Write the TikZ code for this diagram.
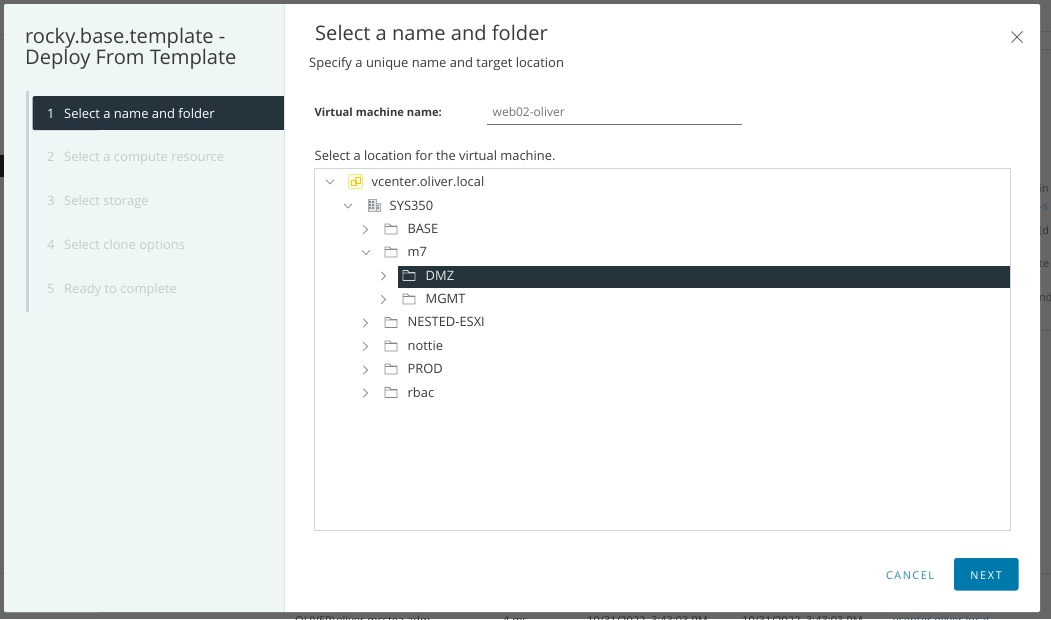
\documentclass[tikz,border=0pt]{standalone}
\usepackage{fontspec}
\setmainfont{Open Sans}
\definecolor{dimbg}{HTML}{666666}
\definecolor{dimline}{HTML}{5A5A5A}
\definecolor{dimtext}{HTML}{333333}
\definecolor{dimblue}{HTML}{2F5266}
\definecolor{panelbg}{HTML}{EEF6F6}
\definecolor{panelline}{HTML}{DDE5E5}
\definecolor{dark}{HTML}{25333D}
\definecolor{track}{HTML}{C9D5DB}
\definecolor{muted}{HTML}{C4CCCC}
\definecolor{ink}{HTML}{3A3A3A}
\definecolor{frameline}{HTML}{D4D4D4}
\definecolor{btnblue}{HTML}{0079AD}
\definecolor{chev}{HTML}{8A9499}
\definecolor{closex}{HTML}{5F6B70}
\definecolor{fold}{HTML}{7F8A8F}
\tikzset{
  x=1pt,y=-1pt,
  txt/.style={inner sep=0pt,anchor=base west,text=ink,font=\fontsize{13}{15}\selectfont},
  steptxt/.style={txt,text=muted},
  treetxt/.style={txt,text=ink,font=\fontsize{12.9}{15}\selectfont},
  bgtxt/.style={txt,text=dimtext,font=\fontsize{11}{13}\selectfont},
  chevron/.style={draw=chev,line width=0.85pt,line cap=round,line join=round},
}
\newcommand{\chevR}[2]{\draw[chevron] (#1-2,#2-4) -- (#1+2,#2) -- (#1-2,#2+4);}
\newcommand{\chevD}[2]{\draw[chevron] (#1-3.7,#2-2) -- (#1,#2+2) -- (#1+3.7,#2-2);}
\newcommand{\foldericon}[3]{\draw[draw=#3,line width=0.9pt,line join=round] (#1-6,#2-5) -- (#1-1.5,#2-5) -- (#1,#2-3) -- (#1+6,#2-3) -- (#1+6,#2+5) -- (#1-6,#2+5) -- cycle (#1-6,#2-2.5) -- (#1+6,#2-2.5);}
\begin{document}
\begin{tikzpicture}
\useasboundingbox (0,0) rectangle (1051,619);
\fill[dimbg] (0,0) rectangle (1051,619);
% dimmed page behind the dialog
\draw[dimline,line width=0.8pt] (1040,31) -- (1051,31) (1040,49) -- (1051,49) (1040,330) -- (1051,330) (1040,573) -- (1051,573);
\draw[dimline,line width=0.8pt] (0,34) -- (4,34) (0,573) -- (4,573);
\fill[black!80!dimbg] (0,155) rectangle (4,177);
\node[bgtxt] (bg1) at (1039,192) {in};
\node[bgtxt,text=dimblue] (bg2) at (1039,210) {-s};
\node[bgtxt] (bg3) at (1039,234) {(d};
\node[bgtxt] (bg4) at (1039,267) {te};
\node[bgtxt] (bg5) at (1039,301) {nd};
\node[bgtxt] (bg6) at (295,624) {OLIVER\textbackslash oliver.mcstea.adm};
\node[bgtxt] (bg7) at (503,624) {4 ms};
\node[bgtxt] (bg8) at (587,624) {10/31/2022, 3:43:03 PM};
\node[bgtxt] (bg9) at (742,624) {10/31/2022, 3:43:03 PM};
\node[bgtxt,text=dimblue] (bg10) at (893,624) {vcenter.oliver.local};
% dialog
\fill[white,rounded corners=1.5pt] (4,4) rectangle (1040,612);
\fill[panelbg,rounded corners=1.5pt] (4,4) rectangle (100,612);
\fill[panelbg] (50,4) rectangle (284,612);
\fill[panelline] (283.5,4) rectangle (285,612);
% left panel
\node[txt,font=\fontsize{20.1}{23}\selectfont] (title1) at (25,43) {rocky.base.template -};
\node[txt,font=\fontsize{20.1}{23}\selectfont] (title2) at (25,64.5) {Deploy From Template};
\fill[track] (25.5,91) rectangle (29,312);
\fill[dark,rounded corners=1.5pt] (32.5,96) rectangle (100,130);
\fill[dark] (50,96) rectangle (283.5,130);
\node[txt,text=white] (n1) at (47,118) {1};
\node[txt,text=white] (s1) at (64,118) {Select a name and folder};
\node[steptxt] (n2) at (47,161.5) {2};
\node[steptxt] (s2) at (64,161.5) {Select a compute resource};
\node[steptxt] (n3) at (47,205.5) {3};
\node[steptxt] (s3) at (64,205.5) {Select storage};
\node[steptxt] (n4) at (47,249.5) {4};
\node[steptxt] (s4) at (64,249.5) {Select clone options};
\node[steptxt] (n5) at (47,293.5) {5};
\node[steptxt] (s5) at (64,293.5) {Ready to complete};
% right header
\node[txt,font=\fontsize{20.1}{23}\selectfont] (head) at (315,40) {Select a name and folder};
\node[txt] (sub) at (309,67.3) {Specify a unique name and target location};
\draw[draw=closex,line width=1pt] (1011.5,31.5) -- (1022.5,42.5) (1022.5,31.5) -- (1011.5,42.5);
% name field
\node[txt,font=\bfseries\fontsize{11.2}{14}\selectfont] (vml) at (314.5,116) {Virtual machine name:};
\node[txt,text=black!55,font=\fontsize{12}{14}\selectfont] (vmv) at (492.5,116) {web02-oliver};
\draw[black!55,line width=0.8pt] (487,124) -- (742,124);
\node[txt,font=\fontsize{12.9}{15}\selectfont] (loc) at (314.5,160.7) {Select a location for the virtual machine.};
% tree frame
\draw[frameline,line width=1pt,fill=white] (314.5,168.5) rectangle (1010,530.5);
\fill[dark] (398,265.5) rectangle (1009.5,288);
% tree root icons
\draw[draw=olive!30!yellow!45!white,fill=yellow!8,line width=1pt,rounded corners=2pt] (348.5,174.5) rectangle (362.5,188.5);
\draw[draw=orange!45!yellow,line width=0.8pt] (351.5,180) rectangle (356,185.5) (355,177.5) rectangle (360,183);
\draw[draw=fold!70!white,fill=black!10,line width=0.9pt] (368,199) rectangle (376,211.5) (376,203) rectangle (380,211.5);
\foreach \gx/\gy in {370/202,373/202,370/205,373/205,370/208,373/208,378/205.5,378/208}
  \fill[fold] (\gx-0.7,\gy-0.7) rectangle (\gx+0.7,\gy+0.7);
% chevrons
\chevD{330}{182}
\chevD{348}{206}
\chevR{365.5}{229.5}
\chevD{366}{252.5}
\chevR{383.5}{276}
\chevR{383.5}{299.5}
\chevR{365.5}{323}
\chevR{365.5}{346.5}
\chevR{365.5}{370}
\chevR{365.5}{393}
% folders
\foldericon{391}{229}{fold}
\foldericon{391}{252}{fold}
\foldericon{409}{275.5}{white!80!dark}
\foldericon{409}{299}{fold}
\foldericon{391}{322.5}{fold}
\foldericon{391}{346}{fold}
\foldericon{391}{369}{fold}
\foldericon{391}{392.5}{fold}
% tree labels
\node[treetxt] (t0) at (371.5,186) {vcenter.oliver.local};
\node[treetxt] (t1) at (389.5,210) {SYS350};
\node[treetxt] (t2) at (407.5,233.3) {BASE};
\node[treetxt] (t3) at (407.5,256.7) {m7};
\node[treetxt,text=white!88!dark] (t4) at (425.5,280) {DMZ};
\node[treetxt] (t5) at (425.5,303.7) {MGMT};
\node[treetxt] (t6) at (407.5,326.7) {NESTED-ESXI};
\node[treetxt] (t7) at (407.5,350) {nottie};
\node[treetxt] (t8) at (407.5,373.7) {PROD};
\node[treetxt] (t9) at (407.5,397) {rbac};
% buttons
\node[txt,text=btnblue!85!white,font=\fontsize{10.8}{13}\selectfont,anchor=base] (cancel) at (910,579) {C\kern1.5pt A\kern1.5pt N\kern1.5pt C\kern1.5pt E\kern1.5pt L};
\fill[btnblue,rounded corners=2.5pt] (954,558) rectangle (1018.5,590.5);
\node[txt,text=white,font=\fontsize{10.8}{13}\selectfont,anchor=base] (next) at (986,579) {N\kern1.7pt E\kern1.7pt X\kern1.7pt T};
\end{tikzpicture}
\end{document}
